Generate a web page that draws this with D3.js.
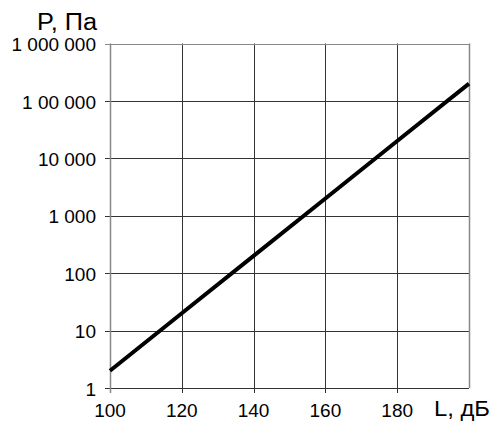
<!DOCTYPE html>
<html><head><meta charset="utf-8">
<script src="https://cdn.jsdelivr.net/npm/d3@7"></script>
<style>body{margin:0;background:#fff;}svg{display:block;font-family:"Liberation Sans",Arial,sans-serif;}</style>
</head><body><div id="c"></div>
<script>
const levels = [100, 120, 140, 160, 180, 200];
const pressures = [2, 20, 200, 2000, 20000, 200000];
const xTicks = [100, 120, 140, 160, 180];
const yTicks = [1, 10, 100, 1000, 10000, 100000, 1000000];
const yTickLabels = ["1", "10", "100", "1 000", "10 000", "1 00 000", "1 000 000"];
const xTitle = "L, дБ";
const yTitle = "P, Па";

const W = 493, H = 422;
const m = {left: 110, right: 24, top: 43.5, bottom: 34};
const svg = d3.select("#c").append("svg").attr("width", W).attr("height", H);
const x = d3.scaleLinear().domain([100, 200]).range([m.left, W - m.right]);
const y = d3.scaleLog().domain([1, 1000000]).range([H - m.bottom, m.top]);

const g = svg.append("g");
// grid
g.selectAll(".vg").data(xTicks.slice(1)).join("line")
  .attr("x1", d => Math.round(x(d)) + 0.5).attr("x2", d => Math.round(x(d)) + 0.5)
  .attr("y1", y(1000000)).attr("y2", y(1) + 5)
  .attr("stroke", "#333").attr("stroke-width", 1);
g.selectAll(".hg").data(yTicks.slice(0, -1)).join("line")
  .attr("x1", x(100) - 5).attr("x2", x(200))
  .attr("y1", d => Math.round(y(d)) + 0.5).attr("y2", d => Math.round(y(d)) + 0.5)
  .attr("stroke", "#333").attr("stroke-width", 1);
// frame top/right
g.append("line").attr("x1", x(100) - 5).attr("x2", x(200) + 0.5)
  .attr("y1", Math.round(y(1000000)) + 0.5).attr("y2", Math.round(y(1000000)) + 0.5)
  .attr("stroke", "#888").attr("stroke-width", 1);
g.append("line").attr("x1", Math.round(x(200)) + 0.5).attr("x2", Math.round(x(200)) + 0.5)
  .attr("y1", y(1000000)).attr("y2", y(1))
  .attr("stroke", "#888").attr("stroke-width", 1.5);
// left axis
g.append("line").attr("x1", Math.round(x(100)) + 0.5).attr("x2", Math.round(x(100)) + 0.5)
  .attr("y1", y(1000000)).attr("y2", y(1) + 5)
  .attr("stroke", "#888").attr("stroke-width", 1.5);

// data line
const line = d3.line().x((d, i) => x(levels[i])).y(d => y(d));
svg.append("path").datum(pressures).attr("d", line)
  .attr("fill", "none").attr("stroke", "#000").attr("stroke-width", 4);

// labels
svg.selectAll(".yl").data(yTicks).join("text")
  .attr("x", 96).attr("y", d => y(d)).attr("dy", "0.4em")
  .attr("text-anchor", "end").attr("font-size", 19).attr("fill", "#000")
  .text((d, i) => yTickLabels[i]);
svg.selectAll(".xl").data(xTicks).join("text")
  .attr("x", d => x(d)).attr("y", 417)
  .attr("text-anchor", "middle").attr("font-size", 19).attr("fill", "#000")
  .text(d => d);
svg.append("text").attr("x", 37).attr("y", 30).attr("text-anchor", "start")
  .attr("font-size", 23).attr("textLength", 60).attr("lengthAdjust", "spacingAndGlyphs").text(yTitle);
svg.append("text").attr("x", 434).attr("y", 416).attr("text-anchor", "start")
  .attr("font-size", 22).attr("textLength", 56).attr("lengthAdjust", "spacingAndGlyphs").text(xTitle);
</script></body></html>
